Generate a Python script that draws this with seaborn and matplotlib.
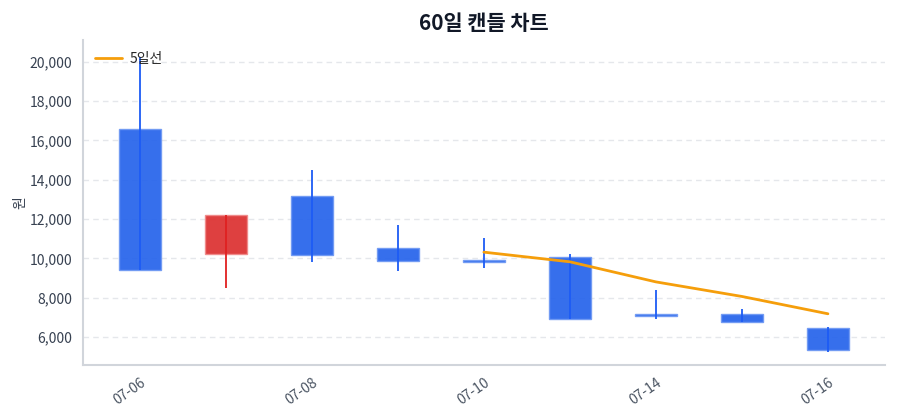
import matplotlib
matplotlib.use("Agg")
import matplotlib.pyplot as plt
import seaborn as sns
import pandas as pd
import numpy as np

dates = ["07-06", "07-07", "07-08", "07-09", "07-10", "07-13", "07-14", "07-15", "07-16"]
opens = [16560, 10250, 13150, 10540, 9850, 10070, 7180, 7160, 6460]
closes = [9390, 12220, 10190, 9850, 9820, 6930, 7100, 6780, 5340]
highs = [20250, 12220, 14510, 11700, 11050, 10250, 8410, 7430, 6540]
lows = [9390, 8510, 9830, 9355, 9525, 6930, 6950, 6780, 5270]
ma5 = [np.nan, np.nan, np.nan, np.nan, 10320, 9830, 8810, 8070, 7190]
tick_labels = ["07-06", "", "07-08", "", "07-10", "", "07-14", "", "07-16"]

sns.set_theme(style="white")
plt.rcParams['font.family'] = ['Noto Sans CJK KR', 'DejaVu Sans']

df = pd.DataFrame({"date": dates, "open": opens, "close": closes,
                   "high": highs, "low": lows, "ma5": ma5})
df["x"] = np.arange(len(df))
df["bottom"] = df[["open", "close"]].min(axis=1)
df["height"] = (df["close"] - df["open"]).abs()
df.loc[df["height"] < 100, "height"] = 100

fig, ax = plt.subplots(figsize=(9, 4.2), dpi=100)
fig.subplots_adjust(left=0.092, right=0.983, top=0.905, bottom=0.131)

up_body, up_edge, up_wick = "#dc2f2f", "#f08a8a", "#e02020"
dn_body, dn_edge, dn_wick = "#2563eb", "#6f99f3", "#1d5cf5"

for _, r in df.iterrows():
    up = r["close"] >= r["open"]
    body = up_body if up else dn_body
    edge = up_edge if up else dn_edge
    wick = up_wick if up else dn_wick
    ax.bar(r["x"], r["height"], bottom=r["bottom"], width=0.49,
           color=body, alpha=0.92, edgecolor=edge, linewidth=1.0, zorder=3)
    ax.vlines(r["x"], r["low"], r["high"], color=wick, linewidth=1.3, zorder=4)

sns.lineplot(data=df, x="x", y="ma5", ax=ax, color="#f59e0b", linewidth=2,
             label="5일선", zorder=5)

ax.set_xlim(-0.663, 8.66)
ax.set_ylim(4590, 21100)
ax.set_xticks(df["x"])
ax.set_xticklabels(tick_labels, rotation=35, ha="right", rotation_mode="anchor",
                   fontsize=10, color="#4b5563")
ax.set_yticks([6000, 8000, 10000, 12000, 14000, 16000, 18000, 20000])
ax.yaxis.set_major_formatter(matplotlib.ticker.FuncFormatter(lambda v, p: f"{int(v):,}"))
ax.tick_params(axis="y", labelsize=10, labelcolor="#374151", length=4, color="#9ca3af")
ax.tick_params(axis="x", length=4, color="#6b7280", width=1.2)
ax.set_xlabel("")
ax.set_ylabel("원", fontsize=10, color="#374151", labelpad=2)
ax.grid(axis="y", linestyle=(0, (4, 3)), color="#e5e7eb", linewidth=1)
ax.set_axisbelow(True)
for s in ["top", "right"]:
    ax.spines[s].set_visible(False)
for s in ["left", "bottom"]:
    ax.spines[s].set_color("#d1d5db")
    ax.spines[s].set_linewidth(1.5)
ax.set_title("60일 캔들 차트", fontsize=15, fontweight="bold", color="#111827", pad=7)
leg = ax.legend(loc="upper left", frameon=False, fontsize=10, handlelength=2.0,
                handletextpad=0.5, borderaxespad=0.45)

fig.savefig("out.png", dpi=100)
